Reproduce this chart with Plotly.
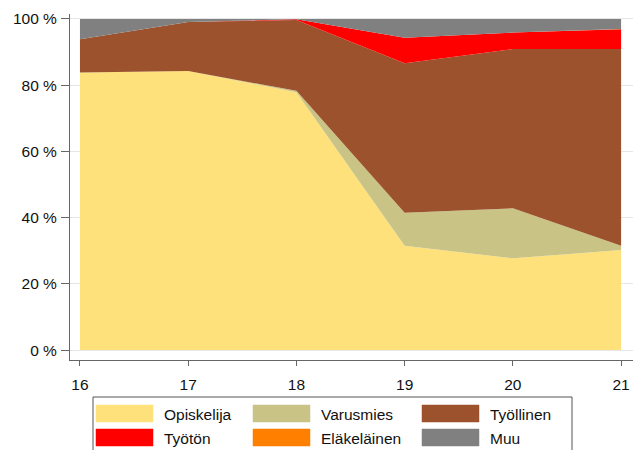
import plotly.graph_objects as go

ages = [16, 17, 18, 19, 20, 21]
opiskelija = [83.8, 84.3, 77.9, 31.5, 27.7, 30.2]
varusmies = [0.0, 0.0, 0.4, 10.0, 15.1, 1.3]
tyollinen = [10.1, 14.8, 21.4, 45.1, 48.1, 59.4]
tyoton = [0.0, 0.0, 0.2, 7.7, 5.0, 6.0]
elakelainen = [0.0, 0.0, 0.0, 0.0, 0.0, 0.1]
muu = [6.1, 0.9, 0.1, 5.7, 4.1, 3.0]

names = ["Opiskelija", "Varusmies", "Työllinen", "Työtön", "Eläkeläinen", "Muu"]
series = [opiskelija, varusmies, tyollinen, tyoton, elakelainen, muu]
colors = ["#FEE17A", "#CAC386", "#9C522D", "#FF0000", "#FF7F00", "#808080"]

y_ticks = [0, 20, 40, 60, 80, 100]
y_ticktext = [f"{v} %" for v in y_ticks]

fig = go.Figure()
for name, vals, col in zip(names, series, colors):
    fig.add_trace(go.Scatter(
        x=ages, y=vals, name=name, stackgroup="one", mode="none",
        fill="tonexty", fillcolor=col, line=dict(width=0), showlegend=False,
        hoverinfo="skip",
    ))

W, H = 636, 450
L, R, T, B = 70, 3, 14, 90
FS = 15.5

def px(x):
    return (x - L) / (W - L - R)

def py(y):
    return (H - B - y) / (H - T - B)

shapes = []
annotations = []
# legend box
shapes.append(dict(type="rect", xref="paper", yref="paper",
                   x0=px(93), x1=px(572), y0=py(397), y1=py(453),
                   line=dict(color="#555555", width=1), fillcolor="white", layer="above"))
col_sw = [96, 253, 422]
col_tx = [163, 320, 489]
rows = [(405, 422, 414), (429, 446, 438)]
for i, (name, col) in enumerate(zip(names, colors)):
    r, c = divmod(i, 3)
    y0, y1, yc = rows[r]
    shapes.append(dict(type="rect", xref="paper", yref="paper",
                       x0=px(col_sw[c]), x1=px(col_sw[c] + 57), y0=py(y1), y1=py(y0),
                       line=dict(color=col, width=0.5), fillcolor=col, layer="above"))
    annotations.append(dict(xref="paper", yref="paper", x=px(col_tx[c] - 1), y=py(yc),
                            text=name, showarrow=False, xanchor="left", yanchor="middle",
                            font=dict(size=FS, color="#111111")))

fig.update_layout(
    width=W, height=H,
    margin=dict(l=L, r=R, t=T, b=B),
    paper_bgcolor="white", plot_bgcolor="white",
    font=dict(family="Liberation Sans, Arial, sans-serif", size=FS, color="#111111"),
    showlegend=False,
    shapes=shapes, annotations=annotations,
    xaxis=dict(range=[15.908, 21.11], tickvals=ages, ticks="outside", ticklen=5,
               tickcolor="#666666", showline=True, linecolor="#666666", linewidth=1,
               showgrid=False, zeroline=False, tickfont=dict(size=FS),
               ticklabelstandoff=5),
    yaxis=dict(range=[-3.0, 101.5], tickvals=y_ticks, ticktext=y_ticktext,
               ticks="outside", ticklen=8, tickcolor="#666666", showline=True,
               linecolor="#666666", linewidth=1, showgrid=True, gridcolor="#E6E6E6",
               gridwidth=1, zeroline=False, tickfont=dict(size=FS),
               ticklabelstandoff=1),
)

fig.write_html("out.html", config={"displayModeBar": False},
               post_script="document.body.style.margin='0px';document.body.style.overflow='hidden';")
